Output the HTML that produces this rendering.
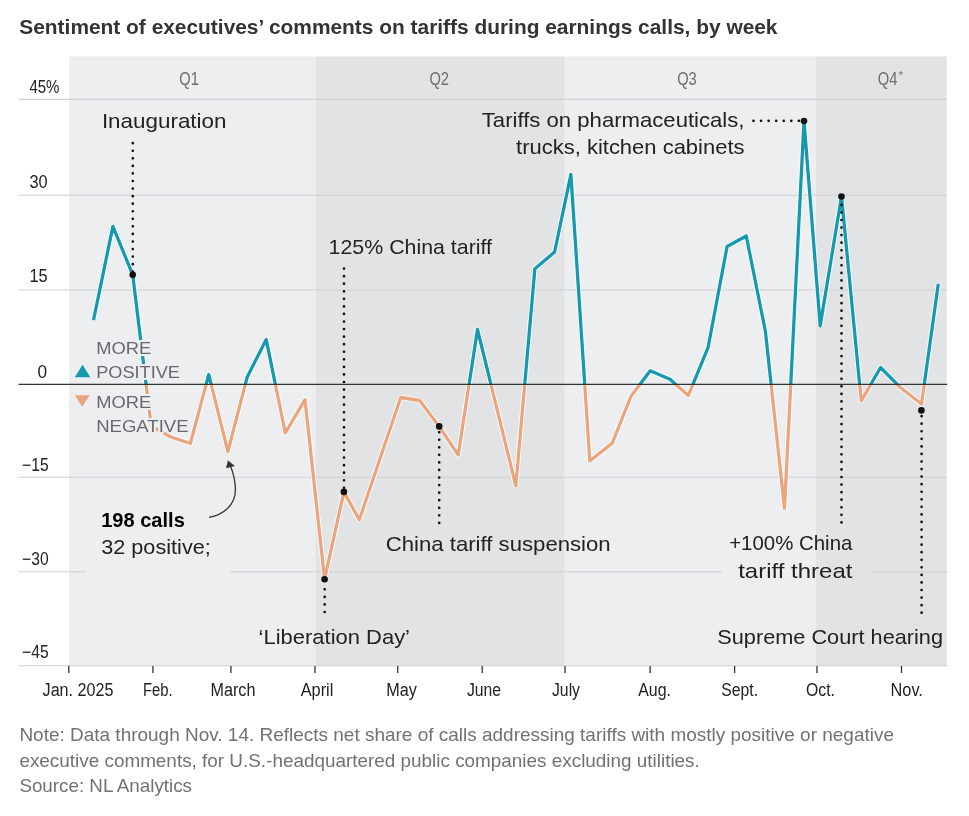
<!DOCTYPE html>
<html lang="en"><head><meta charset="utf-8"><title>Sentiment of executives’ comments on tariffs</title>
<style>
html,body{margin:0;padding:0;background:#fff;}
svg{display:block;font-family:"Liberation Sans", sans-serif;}
.ax{font-size:18px;fill:#222;}
.q{font-size:18px;fill:#6e6e6e;}
.an{font-size:21px;fill:#222;}
.lg{font-size:17px;fill:#66696d;paint-order:stroke;stroke:#edeef0;stroke-width:4px;stroke-linejoin:round;}
.ft{font-size:18.5px;fill:#717171;}
.dot{fill:none;stroke:#111;stroke-width:2.7;stroke-linecap:round;stroke-dasharray:0.01 7.55;}
</style></head><body>
<svg width="969" height="816" viewBox="0 0 969 816">
<rect width="969" height="816" fill="#fff"/>
<text x="19.3" y="33.5" class="ti" text-anchor="start" textLength="758.2" lengthAdjust="spacingAndGlyphs" style="font-size:20.5px;font-weight:bold;fill:#333">Sentiment of executives’ comments on tariffs during earnings calls, by week</text>
<rect x="69.0" y="56.4" width="246.3" height="609.6" fill="#edeef0"/>
<rect x="315.3" y="56.4" width="249.5" height="609.6" fill="#e2e3e5"/>
<rect x="564.8" y="56.4" width="251.0" height="609.6" fill="#edeef0"/>
<rect x="815.8" y="56.4" width="130.9" height="609.6" fill="#e2e3e5"/>
<line x1="18.5" x2="947.2" y1="99.4" y2="99.4" stroke="#cfd0d2" stroke-width="1.1"/>
<line x1="18.5" x2="947.2" y1="195.3" y2="195.3" stroke="#cfd0d2" stroke-width="1.1"/>
<line x1="18.5" x2="947.2" y1="290.0" y2="290.0" stroke="#cfd0d2" stroke-width="1.1"/>
<line x1="18.5" x2="947.2" y1="477.3" y2="477.3" stroke="#cfd0d2" stroke-width="1.1"/>
<line x1="18.5" x2="85.8" y1="571.7" y2="571.7" stroke="#cfd0d2" stroke-width="1.1"/>
<line x1="230.3" x2="721.8" y1="571.7" y2="571.7" stroke="#cfd0d2" stroke-width="1.1"/>
<line x1="870.9" x2="948.2" y1="571.7" y2="571.7" stroke="#cfd0d2" stroke-width="1.1"/>
<line x1="18.5" x2="947.2" y1="665.8" y2="665.8" stroke="#cfd0d2" stroke-width="1.1"/>
<line x1="68.8" x2="68.8" y1="666" y2="673" stroke="#333" stroke-width="1.3"/>
<line x1="152.9" x2="152.9" y1="666" y2="673" stroke="#333" stroke-width="1.3"/>
<line x1="230.9" x2="230.9" y1="666" y2="673" stroke="#333" stroke-width="1.3"/>
<line x1="315.0" x2="315.0" y1="666" y2="673" stroke="#333" stroke-width="1.3"/>
<line x1="397.75" x2="397.75" y1="666" y2="673" stroke="#333" stroke-width="1.3"/>
<line x1="482.2" x2="482.2" y1="666" y2="673" stroke="#333" stroke-width="1.3"/>
<line x1="565.0" x2="565.0" y1="666" y2="673" stroke="#333" stroke-width="1.3"/>
<line x1="650.1" x2="650.1" y1="666" y2="673" stroke="#333" stroke-width="1.3"/>
<line x1="734.6" x2="734.6" y1="666" y2="673" stroke="#333" stroke-width="1.3"/>
<line x1="817.0" x2="817.0" y1="666" y2="673" stroke="#333" stroke-width="1.3"/>
<line x1="901.5" x2="901.5" y1="666" y2="673" stroke="#333" stroke-width="1.3"/>
<defs><clipPath id="up"><rect x="0" y="0" width="969" height="384.4"/></clipPath><clipPath id="dn"><rect x="0" y="384.4" width="969" height="431.6"/></clipPath></defs>
<path d="M93.5,320.2 L112.9,226.4 L132.7,274.8 L151.2,426 L170.4,436.7 L190.4,443.5 L208.75,374.5 L227.9,451.7 L247.2,377 L266.2,339.5 L285.3,433 L305,399.7 L324.6,579.2 L343.9,491.9 L359.3,519.8 L400.7,397.5 L419.7,400.5 L439.2,426.4 L458.2,455 L477.5,329.5 L515.8,485.8 L534.9,268.7 L554.6,252 L570.9,174.4 L589.8,461 L612.3,443.1 L631.0,396.25 L650.2,370.8 L670,379.2 L688.3,395.6 L708.1,347.4 L727.1,246.5 L746.25,236 L765.4,331.25 L784.5,508.3 L804,121 L820.2,325.8 L841.5,196.5 L861.25,400.8 L880.6,367.5 L899.8,387 L921.5,404 L938.3,284" fill="none" stroke="#fff" stroke-opacity="0.95" stroke-width="5.1" stroke-linejoin="round"/>
<path d="M93.5,320.2 L112.9,226.4 L132.7,274.8 L151.2,426 L170.4,436.7 L190.4,443.5 L208.75,374.5 L227.9,451.7 L247.2,377 L266.2,339.5 L285.3,433 L305,399.7 L324.6,579.2 L343.9,491.9 L359.3,519.8 L400.7,397.5 L419.7,400.5 L439.2,426.4 L458.2,455 L477.5,329.5 L515.8,485.8 L534.9,268.7 L554.6,252 L570.9,174.4 L589.8,461 L612.3,443.1 L631.0,396.25 L650.2,370.8 L670,379.2 L688.3,395.6 L708.1,347.4 L727.1,246.5 L746.25,236 L765.4,331.25 L784.5,508.3 L804,121 L820.2,325.8 L841.5,196.5 L861.25,400.8 L880.6,367.5 L899.8,387 L921.5,404 L938.3,284" fill="none" stroke="#1699af" stroke-width="3.3" stroke-linejoin="round" stroke-linecap="butt" clip-path="url(#up)"/>
<path d="M93.5,320.2 L112.9,226.4 L132.7,274.8 L151.2,426 L170.4,436.7 L190.4,443.5 L208.75,374.5 L227.9,451.7 L247.2,377 L266.2,339.5 L285.3,433 L305,399.7 L324.6,579.2 L343.9,491.9 L359.3,519.8 L400.7,397.5 L419.7,400.5 L439.2,426.4 L458.2,455 L477.5,329.5 L515.8,485.8 L534.9,268.7 L554.6,252 L570.9,174.4 L589.8,461 L612.3,443.1 L631.0,396.25 L650.2,370.8 L670,379.2 L688.3,395.6 L708.1,347.4 L727.1,246.5 L746.25,236 L765.4,331.25 L784.5,508.3 L804,121 L820.2,325.8 L841.5,196.5 L861.25,400.8 L880.6,367.5 L899.8,387 L921.5,404 L938.3,284" fill="none" stroke="#e8a57e" stroke-width="3.3" stroke-linejoin="round" stroke-linecap="butt" clip-path="url(#dn)"/>
<polygon points="74.8,377.2 90.3,377.2 82.55,364.8" fill="#1699af"/>
<polygon points="74.8,395.3 89.6,395.3 82.2,406.8" fill="#e8a57e"/>
<text x="96.2" y="354.2" class="lg" text-anchor="start" textLength="55.0" lengthAdjust="spacingAndGlyphs">MORE</text>
<text x="96.2" y="378.1" class="lg" text-anchor="start" textLength="83.8" lengthAdjust="spacingAndGlyphs">POSITIVE</text>
<text x="96.2" y="407.9" class="lg" text-anchor="start" textLength="55.0" lengthAdjust="spacingAndGlyphs">MORE</text>
<text x="96.2" y="432.4" class="lg" text-anchor="start" textLength="92.4" lengthAdjust="spacingAndGlyphs">NEGATIVE</text>
<line x1="18.5" x2="947.2" y1="384.4" y2="384.4" stroke="#333" stroke-width="1.4"/>
<text x="29.4" y="93.3" class="ax" text-anchor="start" textLength="30.0" lengthAdjust="spacingAndGlyphs">45%</text>
<text x="29.4" y="188.4" class="ax" text-anchor="start" textLength="18.2" lengthAdjust="spacingAndGlyphs">30</text>
<text x="29.4" y="282.4" class="ax" text-anchor="start" textLength="18.2" lengthAdjust="spacingAndGlyphs">15</text>
<text x="37.6" y="377.5" class="ax" text-anchor="start" textLength="9.6" lengthAdjust="spacingAndGlyphs">0</text>
<text x="22.1" y="470.5" class="ax" text-anchor="start" textLength="26.5" lengthAdjust="spacingAndGlyphs">−15</text>
<text x="22.1" y="564.5" class="ax" text-anchor="start" textLength="26.5" lengthAdjust="spacingAndGlyphs">−30</text>
<text x="22.1" y="658.4" class="ax" text-anchor="start" textLength="26.5" lengthAdjust="spacingAndGlyphs">−45</text>
<text x="179.3" y="85.1" class="q" text-anchor="start" textLength="19.6" lengthAdjust="spacingAndGlyphs">Q1</text>
<text x="429.4" y="85.1" class="q" text-anchor="start" textLength="19.6" lengthAdjust="spacingAndGlyphs">Q2</text>
<text x="677.2" y="85.1" class="q" text-anchor="start" textLength="19.6" lengthAdjust="spacingAndGlyphs">Q3</text>
<text x="877.7" y="85.1" class="q" text-anchor="start" textLength="19.7" lengthAdjust="spacingAndGlyphs">Q4</text>
<text x="898.6" y="78.6" class="q" text-anchor="start" textLength="4.6" lengthAdjust="spacingAndGlyphs" style="font-size:11px">*</text>
<text x="42.6" y="695.5" class="ax" text-anchor="start" textLength="70.8" lengthAdjust="spacingAndGlyphs">Jan. 2025</text>
<text x="143.0" y="695.5" class="ax" text-anchor="start" textLength="29.7" lengthAdjust="spacingAndGlyphs">Feb.</text>
<text x="210.5" y="695.5" class="ax" text-anchor="start" textLength="44.9" lengthAdjust="spacingAndGlyphs">March</text>
<text x="300.7" y="695.5" class="ax" text-anchor="start" textLength="32.7" lengthAdjust="spacingAndGlyphs">April</text>
<text x="386.2" y="695.5" class="ax" text-anchor="start" textLength="30.6" lengthAdjust="spacingAndGlyphs">May</text>
<text x="466.9" y="695.5" class="ax" text-anchor="start" textLength="34.1" lengthAdjust="spacingAndGlyphs">June</text>
<text x="552.0" y="695.5" class="ax" text-anchor="start" textLength="28.0" lengthAdjust="spacingAndGlyphs">July</text>
<text x="638.2" y="695.5" class="ax" text-anchor="start" textLength="32.7" lengthAdjust="spacingAndGlyphs">Aug.</text>
<text x="721.3" y="695.5" class="ax" text-anchor="start" textLength="36.8" lengthAdjust="spacingAndGlyphs">Sept.</text>
<text x="806.1" y="695.5" class="ax" text-anchor="start" textLength="28.9" lengthAdjust="spacingAndGlyphs">Oct.</text>
<text x="890.6" y="695.5" class="ax" text-anchor="start" textLength="32.3" lengthAdjust="spacingAndGlyphs">Nov.</text>
<line x1="132.8" y1="143.2" x2="132.8" y2="272" class="dot"/>
<circle cx="132.7" cy="274.8" r="3.3" fill="#111"/>
<line x1="344.0" y1="268.6" x2="344.0" y2="489" class="dot"/>
<circle cx="343.9" cy="491.9" r="3.3" fill="#111"/>
<line x1="324.7" y1="612.0" x2="324.7" y2="582" class="dot"/>
<circle cx="324.6" cy="579.2" r="3.3" fill="#111"/>
<line x1="439.2" y1="522.9" x2="439.2" y2="429" class="dot"/>
<circle cx="439.2" cy="426.4" r="3.3" fill="#111"/>
<line x1="753.5" y1="120.8" x2="801" y2="120.8" class="dot"/>
<circle cx="804" cy="121" r="3.3" fill="#111"/>
<line x1="841.5" y1="522.4" x2="841.5" y2="199" class="dot"/>
<circle cx="841.5" cy="196.5" r="3.3" fill="#111"/>
<line x1="921.6" y1="612.7" x2="921.6" y2="413" class="dot"/>
<circle cx="921.4" cy="410.4" r="3.3" fill="#111"/>
<text x="101.9" y="127.7" class="an" text-anchor="start" textLength="124.6" lengthAdjust="spacingAndGlyphs">Inauguration</text>
<text x="328.6" y="253.7" class="an" text-anchor="start" textLength="163.4" lengthAdjust="spacingAndGlyphs">125% China tariff</text>
<text x="481.8" y="127.4" class="an" text-anchor="start" textLength="262.7" lengthAdjust="spacingAndGlyphs">Tariffs on pharmaceuticals,</text>
<text x="516.1" y="154.1" class="an" text-anchor="start" textLength="228.4" lengthAdjust="spacingAndGlyphs">trucks, kitchen cabinets</text>
<text x="385.7" y="551.0" class="an" text-anchor="start" textLength="225.0" lengthAdjust="spacingAndGlyphs">China tariff suspension</text>
<text x="258.6" y="643.8" class="an" text-anchor="start" textLength="151.4" lengthAdjust="spacingAndGlyphs">‘Liberation Day’</text>
<text x="729.2" y="550.1" class="an" text-anchor="start" textLength="123.2" lengthAdjust="spacingAndGlyphs">+100% China</text>
<text x="738.2" y="577.5" class="an" text-anchor="start" textLength="114.2" lengthAdjust="spacingAndGlyphs">tariff threat</text>
<text x="717.3" y="644.0" class="an" text-anchor="start" textLength="225.7" lengthAdjust="spacingAndGlyphs">Supreme Court hearing</text>
<text x="101.2" y="526.6" class="an" text-anchor="start" textLength="83.6" lengthAdjust="spacingAndGlyphs" style="font-weight:bold;fill:#000">198 calls</text>
<text x="101.2" y="553.5" class="an" text-anchor="start" textLength="109.6" lengthAdjust="spacingAndGlyphs">32 positive;</text>
<path d="M209,517.3 C222,515 236,506 235.4,489 C235.1,480 233,472 230.6,466.5" fill="none" stroke="#333" stroke-width="1.3"/>
<polygon points="227.9,460.4 226.0,468.2 234.9,465.9" fill="#333"/>
<text x="19.4" y="741.2" class="ft" text-anchor="start" textLength="874.6" lengthAdjust="spacingAndGlyphs">Note: Data through Nov. 14. Reflects net share of calls addressing tariffs with mostly positive or negative</text>
<text x="19.4" y="766.7" class="ft" text-anchor="start" textLength="680.4" lengthAdjust="spacingAndGlyphs">executive comments, for U.S.-headquartered public companies excluding utilities.</text>
<text x="19.4" y="791.6" class="ft" text-anchor="start" textLength="172.6" lengthAdjust="spacingAndGlyphs">Source: NL Analytics</text>
</svg></body></html>
